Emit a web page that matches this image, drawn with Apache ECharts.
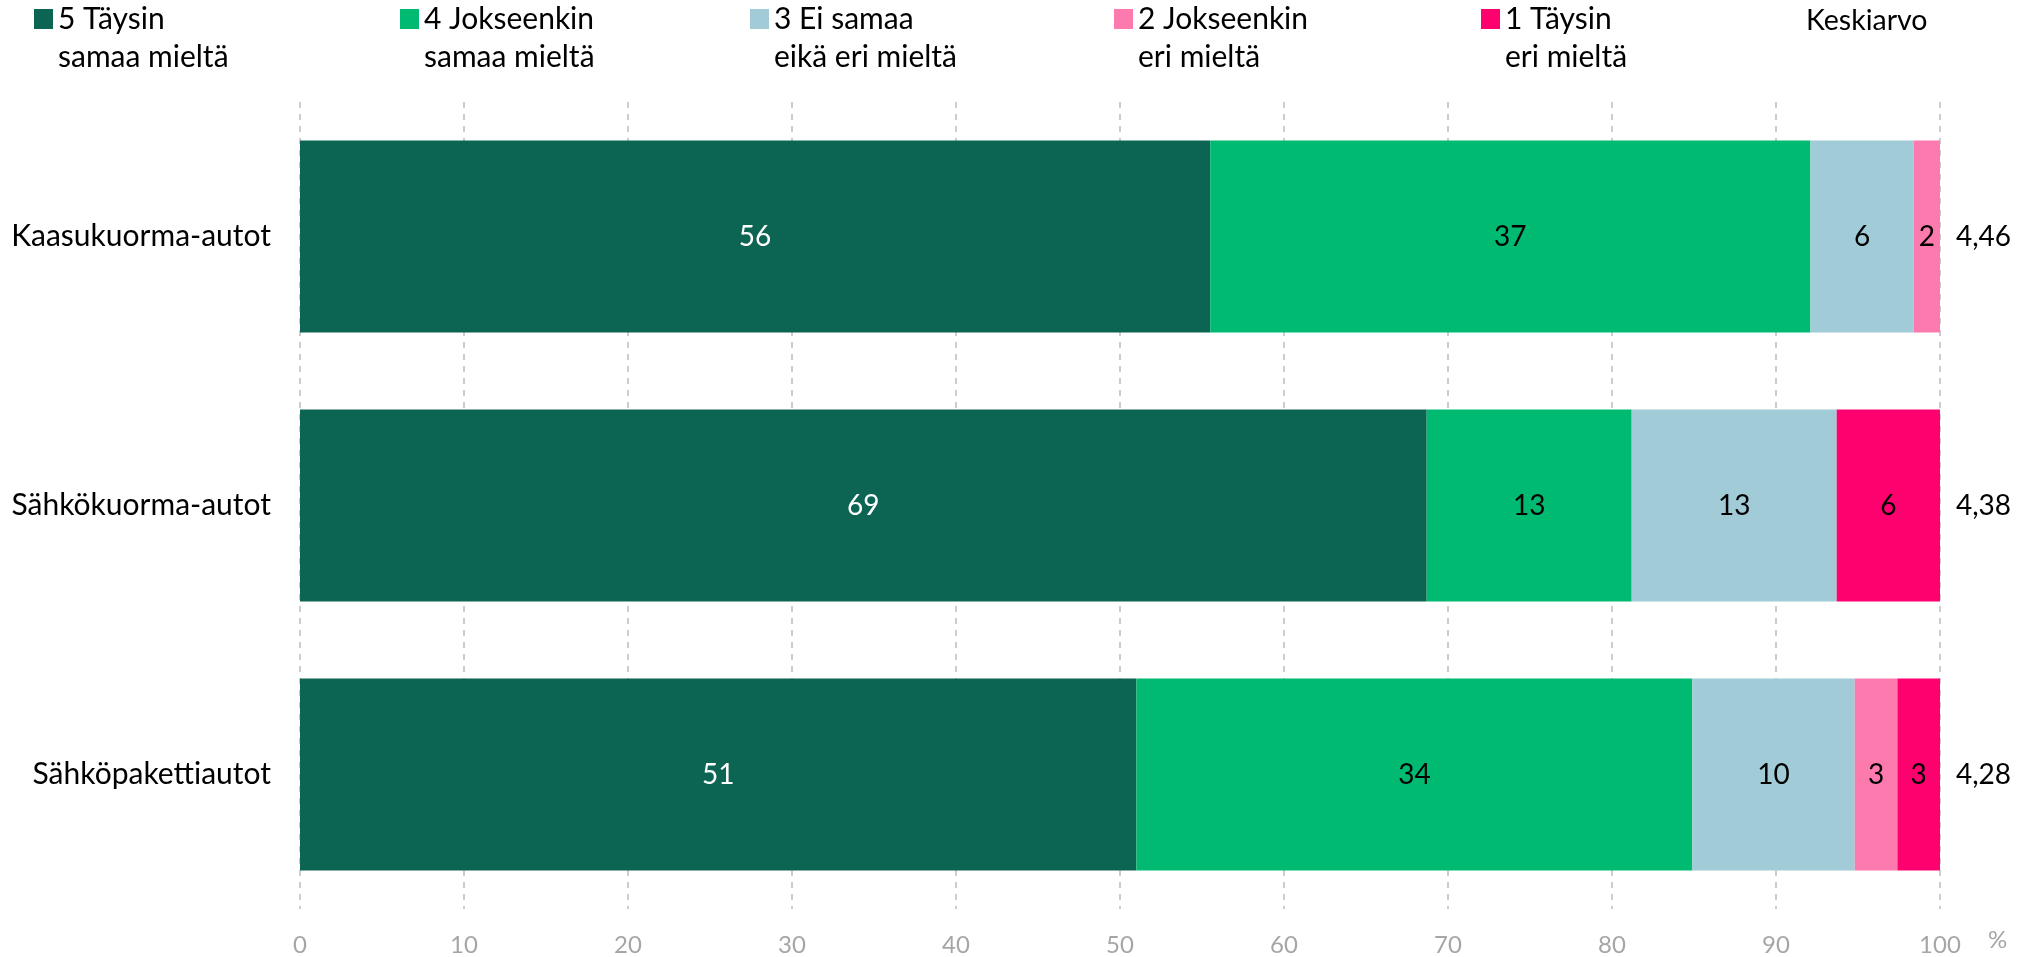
<!DOCTYPE html>
<html>
<head>
<meta charset="utf-8">
<script src="https://cdn.jsdelivr.net/npm/echarts@6/dist/echarts.min.js"></script>
<style>
  html, body { margin: 0; padding: 0; background: #ffffff; }
  #chart { width: 2039px; height: 957px; }
</style>
</head>
<body>
<div id="chart"></div>
<script>
// Vehicle types, top to bottom
const categories = ['Kaasukuorma-autot', 'Sähkökuorma-autot', 'Sähköpakettiautot'];

// Answer shares (%) per response option
const fullyAgree       = [55.5, 68.7, 51.0];
const somewhatAgree    = [36.6, 12.5, 33.9];
const neutral          = [6.3, 12.5, 9.9];
const somewhatDisagree = [1.6, 0, 2.6];
const fullyDisagree    = [0, 6.3, 2.6];

// Mean score on the 1–5 scale
const means = [4.46, 4.38, 4.28];

const seriesNames = [
  '5 Täysin\nsamaa mieltä',
  '4 Jokseenkin\nsamaa mieltä',
  '3 Ei samaa\neikä eri mieltä',
  '2 Jokseenkin\neri mieltä',
  '1 Täysin\neri mieltä'
];
const seriesValues = [fullyAgree, somewhatAgree, neutral, somewhatDisagree, fullyDisagree];
const seriesColors = ['#0c6453', '#00ba72', '#a0cbd7', '#fc7aae', '#ff006f'];
const labelColors = ['#ffffff', '#000000', '#000000', '#000000', '#000000'];
const legendLeft = [34, 400, 750, 1114, 1481];

const xTicks = { min: 0, max: 100, interval: 10 };

const FONT = 'Lato, "Open Sans", "Noto Sans", sans-serif';

// Lato joins "ti" into a ligature; a zero-width non-joiner keeps the letters apart
const noLigature = s => s.replace(/ti/g, 't\u200Ci');

const chart = echarts.init(document.getElementById('chart'), null, { renderer: 'canvas' });

const series = seriesNames.map((name, i) => ({
  name: name,
  type: 'bar',
  stack: 'total',
  barCategoryGap: '28.6%',
  data: seriesValues[i],
  itemStyle: { color: seriesColors[i] },
  label: {
    show: true,
    position: 'inside',
    color: labelColors[i],
    fontFamily: FONT,
    fontSize: 28,
    formatter: p => (p.value > 0 ? String(Math.round(p.value)) : '')
  },
  emphasis: { disabled: true }
}));

// One legend per item so each entry sits at its own column; the leading
// blank line keeps the swatch level with the first line of the label.
const legends = seriesNames.map((name, i) => ({
  data: [name],
  left: legendLeft[i],
  top: -38,
  padding: 0,
  icon: 'rect',
  itemWidth: 19,
  itemHeight: 20,
  selectedMode: false,
  formatter: n => '\n' + n,
  textStyle: {
    fontFamily: FONT,
    fontSize: 30,
    color: '#000000',
    lineHeight: 38
  }
}));

chart.setOption({
  backgroundColor: '#ffffff',
  animation: false,
  textStyle: { fontFamily: FONT },
  legend: legends,
  grid: { left: 300, right: 99, top: 102, bottom: 47, containLabel: false },
  xAxis: {
    type: 'value',
    min: xTicks.min,
    max: xTicks.max,
    interval: xTicks.interval,
    axisLine: { show: false },
    axisTick: { show: false },
    axisLabel: { color: '#a6a6a6', fontSize: 24, margin: 24, fontFamily: FONT },
    splitLine: { show: true, lineStyle: { color: '#bdbdbd', type: [6, 6], width: 1.5 } }
  },
  yAxis: [
    {
      type: 'category',
      data: categories,
      inverse: true,
      axisLine: { show: false },
      axisTick: { show: false },
      axisLabel: {
        color: '#000000', fontSize: 30, margin: 29, fontFamily: FONT,
        formatter: v => noLigature(v)
      }
    },
    {
      type: 'category',
      data: categories,
      inverse: true,
      position: 'right',
      axisLine: { show: false },
      axisTick: { show: false },
      axisLabel: {
        color: '#000000', fontSize: 28, margin: 16, fontFamily: FONT, align: 'left',
        formatter: (v, idx) => means[idx].toFixed(2).replace('.', ',')
      }
    }
  ],
  graphic: [
    {
      type: 'text', left: 1806, top: 6,
      style: { text: 'Keskiarvo', fontFamily: FONT, fontSize: 28.5, fill: '#000000' }
    },
    {
      type: 'text', left: 1988, top: 928,
      style: { text: '%', fontFamily: FONT, fontSize: 24, fill: '#a6a6a6' }
    }
  ],
  series: series
});
</script>
</body>
</html>
